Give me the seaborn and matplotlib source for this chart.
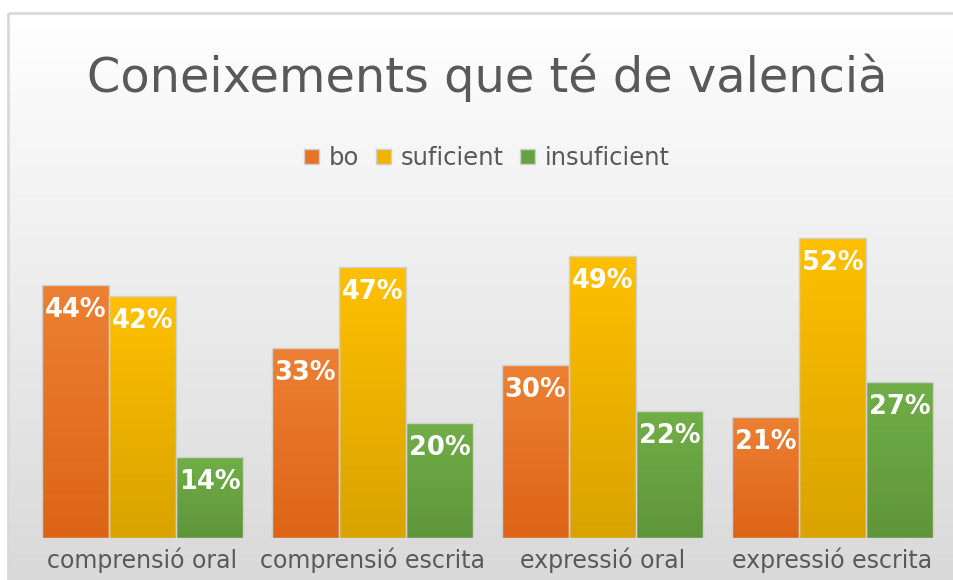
import numpy as np
import pandas as pd
import matplotlib
matplotlib.use("Agg")
import matplotlib.pyplot as plt
import seaborn as sns
from matplotlib.patches import Patch, Rectangle
from matplotlib.colors import LinearSegmentedColormap

# Data
categories = ["comprensió oral", "comprensió escrita", "expressió oral", "expressió escrita"]
series = ["bo", "suficient", "insuficient"]
bo = [0.44, 0.33, 0.30, 0.21]
suficient = [0.42, 0.47, 0.49, 0.52]
insuficient = [0.14, 0.20, 0.22, 0.27]

# Gradient colours (top, bottom) per series
grad = {
    "bo": ("#ED8034", "#DD6416"),
    "suficient": ("#FFC000", "#D9A300"),
    "insuficient": ("#71AE48", "#5F953A"),
}
base = {"bo": "#E8712A", "suficient": "#F0B400", "insuficient": "#67A140"}

df = pd.DataFrame({
    "categoria": categories * 3,
    "serie": ["bo"] * 4 + ["suficient"] * 4 + ["insuficient"] * 4,
    "valor": bo + suficient + insuficient,
})

sns.set_style("white")
plt.rcParams["font.family"] = ["DejaVu Sans"]

W, H = 954, 580
fig = plt.figure(figsize=(W / 100, H / 100), dpi=100)
fig.patch.set_facecolor("white")

# Background gradient of the chart area
bg = fig.add_axes([0, 0, 1, 1], zorder=0)
bg.axis("off")
bg_cmap = LinearSegmentedColormap.from_list("bg", ["#FFFFFF", "#D9D9D9"])
bg.imshow(np.linspace(0, 1, 256).reshape(-1, 1), cmap=bg_cmap, aspect="auto",
          extent=[8, W + 5, H + 5, 13])
bg.add_patch(Rectangle((8, 13), W, H, fill=False, edgecolor="#D9D9D9", lw=2))
bg.set_xlim(0, W)
bg.set_ylim(H, 0)

ax = fig.add_axes([27.5 / W, 1 - 538 / H, 920 / W, 345.6 / H], zorder=1)
ax.patch.set_alpha(0)

sns.barplot(data=df, x="categoria", y="valor", hue="serie", order=categories,
            hue_order=series, palette=base, width=0.874, ax=ax,
            edgecolor="#D0D0D0", linewidth=1, legend=False, saturation=1)

# Replace flat fills with vertical gradients
for cont, name in zip(ax.containers, series):
    cmap = LinearSegmentedColormap.from_list(name, [grad[name][1], grad[name][0]])
    for bar, v in zip(cont, df[df.serie == name].valor):
        x0, w, h = bar.get_x(), bar.get_width(), bar.get_height()
        im = ax.imshow(np.linspace(0, 1, 128).reshape(-1, 1), cmap=cmap, origin="lower",
                       aspect="auto", extent=[x0, x0 + w, 0, h], zorder=1)
        im.set_clip_path(bar)
        bar.set_facecolor("none")
        bar.set_zorder(2)
        ax.annotate(f"{v * 100:.0f}%", (x0 + w / 2, h), xytext=(0, -25),
                    textcoords="offset pixels", ha="center", va="center",
                    color="white", fontsize=18.5, fontweight="bold", zorder=3)

ax.set_xlim(-0.5, 3.5)
ax.set_ylim(0, 0.6)
ax.set_xlabel("")
ax.set_ylabel("")
ax.set_yticks([])
ax.tick_params(axis="x", length=0, labelsize=17, labelcolor="#595959", pad=7)
sns.despine(ax=ax, left=True, bottom=True)

fig.text(487 / W, 1 - 78 / H, "Coneixements que té de valencià", ha="center",
         va="center", fontsize=34.5, color="#595959")

handles = [Patch(facecolor=base[s], edgecolor="#D0D0D0", label=s) for s in series]
fig.legend(handles=handles, loc="center", bbox_to_anchor=(487 / W, 1 - 158 / H),
           ncol=3, frameon=False, fontsize=17.5, labelcolor="#595959",
           handlelength=0.6, handleheight=0.6, handletextpad=0.4, columnspacing=0.7)

fig.savefig("out.png", dpi=100)
